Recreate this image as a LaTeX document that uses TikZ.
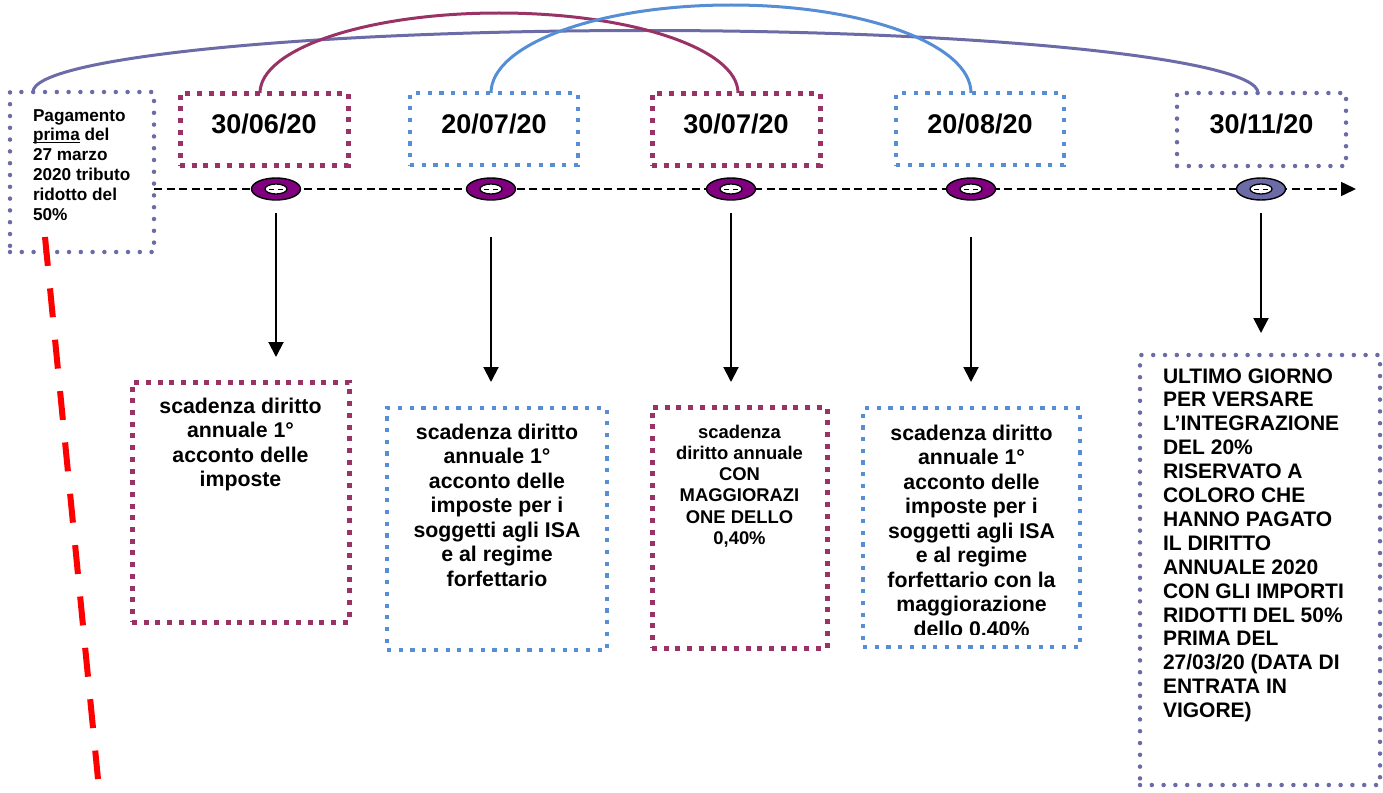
\documentclass[tikz,border=0pt]{standalone}
\usepackage{fontspec}
\setmainfont{Liberation Sans}
\usetikzlibrary{arrows.meta,shapes.geometric,calc}
\definecolor{plum}{RGB}{153,51,102}
\definecolor{skyb}{RGB}{85,142,213}
\definecolor{slate}{RGB}{107,107,168}
\definecolor{ringpurple}{RGB}{128,0,128}
\newcommand\myfs[2]{\bfseries\fontsize{#1}{#2}\selectfont}
\newcommand\myul[1]{{\setbox0\hbox{#1}\rlap{\rule[-2.6pt]{\wd0}{1.3pt}}\box0}}
\begin{document}
\begin{tikzpicture}[x=1pt,y=-1pt,
  boxbase/.style={rectangle, inner sep=0pt, outer sep=0pt},
  sqP/.style={boxbase, draw=plum, line width=5pt, dash pattern=on 5pt off 6.7pt},
  sqB/.style={boxbase, draw=skyb, line width=4.2pt, dash pattern=on 4.2pt off 7.5pt},
  rdS/.style={boxbase, draw=slate, line width=4.5pt, line cap=round, dash pattern=on 0pt off 11.8pt},
  txt/.style={inner sep=0pt, outer sep=0pt},
  datetxt/.style={txt, anchor=base, font=\myfs{27}{30}},
  ring/.style={ellipse, draw=black, line width=1.4pt, fill=#1, minimum width=49pt,
    minimum height=22pt, inner sep=0pt, outer sep=0pt,
    path picture={
      \filldraw[fill=white, draw=black, line width=1.3pt] (path picture bounding box.center) ellipse [x radius=11pt, y radius=5pt];
      \draw[line width=1pt] ([xshift=-7pt]path picture bounding box.center) -- ([xshift=-2pt]path picture bounding box.center);
      \draw[line width=1pt] ([xshift=2pt]path picture bounding box.center) -- ([xshift=7pt]path picture bounding box.center);
    }},
  arcline/.style={line width=3pt},
  timeline/.style={line width=1.5pt, dash pattern=on 8pt off 4.5pt, -{Triangle[length=15pt,width=14pt]}},
  downarr/.style={line width=2pt, -{Triangle[length=15pt,width=15pt]}},
  reddash/.style={red, line width=6pt, dash pattern=on 29pt off 22.6pt}
]
\useasboundingbox (0,0) rectangle (1383,792);

% ---- boxes (geometry) ----
\path
  (82,172)      node[boxbase, minimum width=144pt, minimum height=160pt] (L) {}
  (264,129)     node[boxbase, minimum width=168pt, minimum height=72pt] (d1) {}
  (494,129)     node[boxbase, minimum width=168pt, minimum height=72pt] (d2) {}
  (736,129)     node[boxbase, minimum width=168pt, minimum height=72pt] (d3) {}
  (980,129)     node[boxbase, minimum width=168pt, minimum height=72pt] (d4) {}
  (1261.5,129.5) node[boxbase, minimum width=169pt, minimum height=73pt] (d5) {}
  (240.5,502)   node[boxbase, minimum width=217pt, minimum height=240pt] (A) {}
  (497,529)     node[boxbase, minimum width=220pt, minimum height=242pt] (B) {}
  (739.5,527.5) node[boxbase, minimum width=175pt, minimum height=241pt] (C) {}
  (971.5,527.5) node[boxbase, minimum width=217pt, minimum height=239pt] (D) {}
  (1260,570)    node[boxbase, minimum width=240pt, minimum height=430pt] (E) {};

% ---- top arcs ----
\coordinate (m0) at ($(d1.north west)+(80,0)$);
\coordinate (m1) at ($(d3.north west)+(86,0)$);
\coordinate (mp) at (499,13);
\coordinate (b0) at ($(d2.north west)+(81,0)$);
\coordinate (b1) at ($(d4.north west)+(75,0)$);
\coordinate (bp) at (731,5);
\coordinate (s0) at ($(L.north west)+(23,0)$);
\coordinate (s1) at ($(d5.north west)+(81,0)$);
\coordinate (sp) at (645.5,30.5);

\draw[arcline, slate] (s0) .. controls +(0,-34.2) and +(-338.3,0) .. (sp)
                           .. controls +(338.3,0) and +(0,-34.2) .. (s1);
\draw[arcline, plum] (m0) .. controls +(0,-44.2) and +(-132,0) .. (mp)
                          .. controls +(132,0) and +(0,-44.2) .. (m1);
\draw[arcline, skyb] (b0) .. controls +(0,-48.6) and +(-132.6,0) .. (bp)
                          .. controls +(132.6,0) and +(0,-48.6) .. (b1);

% ---- box borders ----
\node[rdS, minimum width=144pt, minimum height=160pt] at (L) {};
\node[sqP, minimum width=168pt, minimum height=72pt] at (d1) {};
\node[sqB, minimum width=168pt, minimum height=72pt] at (d2) {};
\node[sqP, minimum width=168pt, minimum height=72pt] at (d3) {};
\node[sqB, minimum width=168pt, minimum height=72pt] at (d4) {};
\node[rdS, minimum width=169pt, minimum height=73pt] at (d5) {};
\node[sqP, minimum width=217pt, minimum height=240pt] at (A) {};
\node[sqB, minimum width=220pt, minimum height=242pt] at (B) {};
\node[sqP, minimum width=175pt, minimum height=241pt] at (C) {};
\node[sqB, minimum width=217pt, minimum height=239pt] at (D) {};
\node[rdS, minimum width=240pt, minimum height=430pt] at (E) {};

% ---- timeline ----
\coordinate (tl1) at (1356,189);
\draw[timeline] (L.east |- tl1) -- (tl1);

% ---- rings ----
\node[ring=ringpurple] (r1) at (276,189) {};
\node[ring=ringpurple] (r2) at (491,189) {};
\node[ring=ringpurple] (r3) at (731,189) {};
\node[ring=ringpurple] (r4) at (971,189) {};
\node[ring=slate]      (r5) at (1261,189) {};

% ---- down arrows ----
\draw[downarr, shorten <=13pt, shorten >=25pt] (r1.south) -- (r1.south |- A.north);
\draw[downarr, shorten <=37pt, shorten >=26pt] (r2.south) -- (r2.south |- B.north);
\draw[downarr, shorten <=13pt, shorten >=25pt] (r3.south) -- (r3.south |- C.north);
\draw[downarr, shorten <=37pt, shorten >=26pt] (r4.south) -- (r4.south |- D.north);
\draw[downarr, shorten <=13pt, shorten >=22pt] (r5.south) -- (r5.south |- E.north);

% ---- red dashed line ----
\coordinate (red0) at (45,237);
\coordinate (red1) at (98,779);
\draw[reddash] (red0) -- (red1);

% ---- texts ----
\node[datetxt] (t1) at ($(d1.north)+(0,40)$) {30/06/20};
\node[datetxt] (t2) at ($(d2.north)+(0,40)$) {20/07/20};
\node[datetxt] (t3) at ($(d3.north)+(0,40)$) {30/07/20};
\node[datetxt] (t4) at ($(d4.north)+(0,40)$) {20/08/20};
\node[datetxt] (t5) at ($(d5.north)+(0,40)$) {30/11/20};

\node[txt, anchor=north west, align=left, font=\myfs{17.2}{19.8}] (Lt) at ($(L.north west)+(23,16)$)
  {\rule{0pt}{13pt}Pagamento\\\myul{prima} del\\27 marzo\\2020 tributo\\ridotto del\\50\%};

\node[txt, anchor=north, align=center, font=\myfs{21.3}{24.5}] (At) at ($(A.north)+(0,15)$)
  {\rule{0pt}{16pt}scadenza diritto\\annuale 1°\\acconto delle\\imposte};

\node[txt, anchor=north, align=center, font=\myfs{21.3}{24.5}] (Bt) at ($(B.north)+(0,15)$)
  {\rule{0pt}{16pt}scadenza diritto\\annuale 1°\\acconto delle\\imposte per i\\soggetti agli ISA\\e al regime\\forfettario};

\node[txt, anchor=north, align=center, font=\myfs{18.4}{21.3}] (Ct) at ($(C.north)+(0,17)$)
  {\rule{0pt}{14pt}scadenza\\diritto annuale\\CON\\MAGGIORAZI\\ONE DELLO\\0,40\%};

\begin{scope}
\clip ($(D.north west)+(3,3)$) rectangle ($(D.south east)+(-3,-13)$);
\node[txt, anchor=north, align=center, font=\myfs{21.3}{24.5}] (Dt) at ($(D.north)+(0,16)$)
  {\rule{0pt}{16pt}scadenza diritto\\annuale 1°\\acconto delle\\imposte per i\\soggetti agli ISA\\e al regime\\forfettario con la\\maggiorazione\\dello 0,40\%};
\end{scope}

\node[txt, anchor=north west, align=left, font=\myfs{21}{23.9}] (Et) at ($(E.north west)+(23,12)$)
  {\rule{0pt}{16pt}ULTIMO GIORNO\\PER VERSARE\\L’INTEGRAZIONE\\DEL 20\%\\RISERVATO A\\COLORO CHE\\HANNO PAGATO\\IL DIRITTO\\ANNUALE 2020\\CON GLI IMPORTI\\RIDOTTI DEL 50\%\\PRIMA DEL\\27/03/20 (DATA DI\\ENTRATA IN\\VIGORE)};
\end{tikzpicture}
\end{document}
